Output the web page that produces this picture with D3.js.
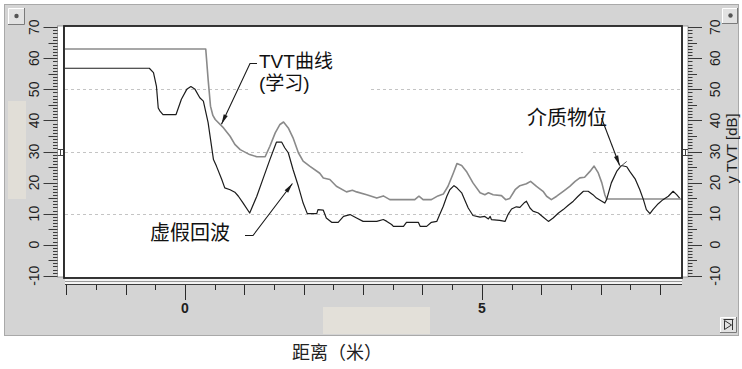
<!DOCTYPE html>
<html>
<head>
<meta charset="utf-8">
<script src="https://cdn.jsdelivr.net/npm/d3@7"></script>
<style>
  html, body { margin: 0; padding: 0; background: #fff; }
  svg { display: block; }
  text { font-family: "Liberation Sans", Arial, "Noto Sans CJK SC", sans-serif; }
  .cjk { font-family: "Noto Sans CJK SC", "Liberation Sans", sans-serif; }
</style>
</head>
<body>
<svg id="chart" width="742" height="369"></svg>
<script>
// Learned TVT curve: distance (m), level (dB)
const tvtLearned = [
  [-2.02, 63], [0.35, 63], [0.39, 53.2], [0.43, 44.6], [0.47, 41.6], [0.51, 40.3],
  [0.65, 37.6], [0.76, 34.9], [0.84, 32.3], [0.93, 30.6], [1.09, 29.0], [1.21, 28.3],
  [1.35, 28.3], [1.43, 31.7], [1.52, 36.0], [1.60, 38.7], [1.66, 39.5], [1.74, 37.6],
  [1.82, 34.4], [1.91, 29.6], [1.99, 26.9], [2.10, 25.3], [2.27, 23.0], [2.33, 21.5],
  [2.44, 21.0], [2.55, 18.8], [2.72, 17.0], [2.82, 17.5], [2.89, 17.0], [3.06, 16.1],
  [3.23, 15.0], [3.34, 15.7], [3.45, 14.5], [3.87, 14.5], [3.94, 15.6], [4.01, 14.5],
  [4.15, 14.5], [4.26, 15.7], [4.35, 16.3], [4.43, 18.8], [4.52, 23.1], [4.58, 26.1],
  [4.66, 25.5], [4.74, 23.6], [4.85, 19.9], [4.97, 16.7], [5.05, 16.1], [5.11, 16.7],
  [5.19, 16.1], [5.33, 15.8], [5.40, 14.5], [5.47, 14.9], [5.56, 17.7], [5.64, 19.0],
  [5.75, 19.6], [5.82, 20.4], [5.92, 18.8], [6.03, 17.2], [6.09, 15.6], [6.17, 14.5],
  [6.26, 15.6], [6.37, 17.2], [6.48, 18.8], [6.57, 20.4], [6.65, 21.5], [6.73, 21.7],
  [6.82, 23.6], [6.89, 25.3], [6.96, 23.1], [7.02, 19.9], [7.07, 16.1], [7.10, 14.7],
  [8.37, 14.7]
];

// Echo profile: distance (m), level (dB)
const echoProfile = [
  [-2.02, 56.8], [-0.60, 56.8], [-0.53, 55.4], [-0.48, 51.0], [-0.45, 44.0], [-0.42, 43.0],
  [-0.37, 41.9], [-0.15, 41.9], [-0.06, 46.8], [0.03, 50.0], [0.10, 50.9], [0.17, 50.0],
  [0.25, 47.3], [0.31, 46.2], [0.39, 39.3], [0.48, 27.4], [0.53, 25.3], [0.62, 21.0],
  [0.67, 18.3], [0.76, 17.7], [0.84, 16.9], [0.90, 15.6], [0.98, 13.4], [1.09, 10.2],
  [1.21, 15.6], [1.32, 21.5], [1.43, 27.4], [1.54, 33.0], [1.63, 33.0], [1.68, 31.2],
  [1.74, 29.6], [1.82, 24.2], [1.91, 18.8], [1.99, 13.4], [2.06, 10.0], [2.22, 10.0],
  [2.24, 11.3], [2.33, 11.1], [2.38, 8.6], [2.47, 7.2], [2.58, 7.2], [2.67, 9.1],
  [2.78, 9.7], [2.89, 8.6], [3.00, 7.5], [3.23, 7.5], [3.34, 8.1], [3.40, 7.5],
  [3.48, 6.5], [3.51, 5.9], [3.68, 5.9], [3.73, 7.2], [3.93, 7.2], [3.96, 5.9],
  [4.07, 5.9], [4.15, 7.2], [4.24, 7.5], [4.29, 9.7], [4.35, 12.4], [4.41, 15.6],
  [4.46, 17.7], [4.53, 19.0], [4.58, 18.3], [4.66, 16.7], [4.71, 14.5], [4.77, 11.8],
  [4.85, 9.4], [4.97, 8.9], [5.05, 9.1], [5.11, 8.3], [5.14, 9.1], [5.16, 8.1],
  [5.30, 7.8], [5.39, 7.5], [5.44, 9.7], [5.50, 11.5], [5.58, 12.2], [5.64, 12.0],
  [5.72, 13.6], [5.75, 14.0], [5.81, 11.8], [5.86, 10.8], [5.95, 10.2], [6.03, 8.9],
  [6.12, 7.5], [6.20, 8.6], [6.29, 10.2], [6.37, 11.3], [6.45, 12.6], [6.54, 14.0],
  [6.62, 15.6], [6.71, 17.2], [6.79, 17.2], [6.87, 16.1], [6.93, 15.0], [7.02, 14.0],
  [7.07, 13.4], [7.10, 14.5], [7.18, 19.9], [7.27, 23.6], [7.35, 25.5], [7.44, 25.1],
  [7.49, 23.6], [7.58, 21.2], [7.66, 17.7], [7.72, 14.5], [7.77, 11.3], [7.83, 10.0],
  [7.88, 11.3], [7.97, 13.2], [8.05, 14.5], [8.14, 15.6], [8.22, 17.2], [8.28, 16.1],
  [8.33, 15.0]
];

const dbTickLabels = [-10, 0, 10, 20, 30, 40, 50, 60, 70];
const distanceTickLabels = [0, 5];
const gridLevels = [10, 30, 50];
const rightAxisTitle = "y TVT [dB]";
const xAxisTitle = "距离（米）";

// Callouts: text lines and the point on the curve the arrow points to (m, dB)
const calloutTexts = [["TVT曲线", "(学习)"], ["虚假回波"], ["介质物位"]];
const calloutTargets = [[0.615, 38.8], [1.81, 19.7], [7.32, 25.5]];

// ---------------------------------------------------------------------------
const svg = d3.select("#chart");
const plot = { left: 65, right: 682, top: 26, bottom: 277 };

const x = d3.scaleLinear().domain([-2.02, 8.37]).range([plot.left, plot.right]);
const y = d3.scaleLinear().domain([-10.4, 70.4]).range([plot.bottom, plot.top]);

// Window panel
svg.append("rect").attr("x", 4.5).attr("y", 4.5).attr("width", 734).attr("height", 331)
  .attr("fill", "#d4d4d4").attr("stroke", "#a9a9a9");

// Raised buttons in the panel corners
function button(bx, by, w, h) {
  const g = svg.append("g");
  g.append("rect").attr("x", bx).attr("y", by).attr("width", w).attr("height", h).attr("fill", "#e2e2e2");
  g.append("path").attr("d", `M${bx + 0.5},${by + h}V${by + 0.5}H${bx + w}`).attr("fill", "none").attr("stroke", "#fff");
  g.append("path").attr("d", `M${bx + w - 0.5},${by}V${by + h - 0.5}H${bx}`).attr("fill", "none").attr("stroke", "#7a7a7a");
  return g;
}
button(8, 8, 17, 17).append("circle").attr("cx", 16.5).attr("cy", 16).attr("r", 2.2).attr("fill", "#555");
button(722, 8, 16, 16).append("circle").attr("cx", 730.5).attr("cy", 15.5).attr("r", 2.2).attr("fill", "#555");
const endBtn = button(720, 317, 17, 16);
endBtn.append("path").attr("d", "M724.5,320.5V329.5L731.5,325Z").attr("fill", "none").attr("stroke", "#333");
endBtn.append("path").attr("d", "M732.5,320V330").attr("stroke", "#333");
endBtn.append("path").attr("d", "M723.5,319.5H733.5").attr("stroke", "#333");

// Patches on the panel
svg.append("rect").attr("x", 8).attr("y", 101).attr("width", 18).attr("height", 98).attr("fill", "#e1ded7");
svg.append("rect").attr("x", 323).attr("y", 307).attr("width", 107).attr("height", 27).attr("fill", "#e3e0d9");

// Ruler strips beside the plot
svg.append("rect").attr("x", 57.5).attr("y", plot.top).attr("width", 6).attr("height", plot.bottom - plot.top)
  .attr("fill", "#fff").attr("stroke", "#8c8c8c").attr("stroke-width", 0.8);
svg.append("rect").attr("x", plot.right).attr("y", plot.top).attr("width", 6).attr("height", plot.bottom - plot.top)
  .attr("fill", "#fff").attr("stroke", "#8c8c8c").attr("stroke-width", 0.8);
svg.append("rect").attr("x", plot.left).attr("y", plot.bottom + 1).attr("width", plot.right - plot.left).attr("height", 7)
  .attr("fill", "#f4f4f4");
svg.append("line").attr("x1", plot.left).attr("x2", plot.right).attr("y1", 281.5).attr("y2", 281.5).attr("stroke", "#9a9a9a");
svg.append("line").attr("x1", plot.left).attr("x2", plot.right).attr("y1", 284.5).attr("y2", 284.5).attr("stroke", "#3a3a3a");

// Plot area
svg.append("rect").attr("x", plot.left).attr("y", plot.top).attr("width", plot.right - plot.left)
  .attr("height", plot.bottom - plot.top).attr("fill", "#fff");

// dB rulers: minor every 1 dB, medium every 5, major every 10
const dbRuler = d3.range(-10, 71, 1);
const tickLen = v => (v % 10 === 0 ? 14 : v % 5 === 0 ? 9 : 4.5);
const leftRuler = svg.append("g");
leftRuler.selectAll("line").data(dbRuler).join("line")
  .attr("x1", 57.5).attr("x2", d => 57.5 - tickLen(d))
  .attr("y1", d => Math.round(y(d)) + 0.5).attr("y2", d => Math.round(y(d)) + 0.5)
  .attr("stroke", "#3a3a3a").attr("stroke-width", 1);
const rightRuler = svg.append("g");
rightRuler.selectAll("line").data(dbRuler).join("line")
  .attr("x1", 688).attr("x2", d => 688 + tickLen(d))
  .attr("y1", d => Math.round(y(d)) + 0.5).attr("y2", d => Math.round(y(d)) + 0.5)
  .attr("stroke", "#3a3a3a").attr("stroke-width", 1);

// dB labels, rotated
function dbLabels(cx) {
  svg.append("g").selectAll("text").data(dbTickLabels).join("text")
    .attr("transform", d => `translate(${cx},${y(d)}) rotate(-90)`)
    .attr("text-anchor", "middle").attr("dy", "0.36em")
    .attr("font-size", 14).attr("fill", "#1e1e1e")
    .text(d => d);
}
dbLabels(33.5);
dbLabels(715);
svg.append("text").attr("transform", `translate(731.5,${y(31)}) rotate(-90)`)
  .attr("text-anchor", "middle").attr("dy", "0.36em").attr("font-size", 15).attr("fill", "#1e1e1e")
  .text(rightAxisTitle);

// Cursor marks on the strips at 30 dB
function cursorMark(cx) {
  const cy = Math.round(y(30)) + 0.5;
  svg.append("path").attr("d", `M${cx - 2.5},${cy - 3}H${cx + 2.5}M${cx},${cy - 3}V${cy + 3}M${cx - 2.5},${cy + 3}H${cx + 2.5}`)
    .attr("stroke", "#444").attr("fill", "none");
}
cursorMark(60.5);
cursorMark(685.5);

// Distance axis
const distTicks = d3.range(-2, 8.01, 0.5);
const distLen = v => (v % 5 === 0 ? 15 : Number.isInteger(v) ? 10 : 5);
svg.append("g").selectAll("line").data(distTicks).join("line")
  .attr("x1", d => Math.round(x(d)) + 0.5).attr("x2", d => Math.round(x(d)) + 0.5)
  .attr("y1", 285).attr("y2", d => 285 + distLen(d))
  .attr("stroke", "#2a2a2a");
svg.append("g").selectAll("text").data(distanceTickLabels).join("text")
  .attr("x", d => x(d)).attr("y", 313).attr("text-anchor", "middle")
  .attr("font-size", 14).attr("font-weight", "bold").attr("fill", "#1e1e1e")
  .text(d => d);

svg.append("text").attr("class", "cjk").attr("x", 337).attr("y", 359).attr("text-anchor", "middle")
  .attr("font-size", 18).attr("fill", "#222").text(xAxisTitle);

// Dashed grid
svg.append("g").selectAll("line").data(gridLevels).join("line")
  .attr("x1", plot.left).attr("x2", plot.right)
  .attr("y1", d => Math.round(y(d)) + 0.5).attr("y2", d => Math.round(y(d)) + 0.5)
  .attr("stroke", "#c4c4c4").attr("stroke-dasharray", "3,3");

// Callout backgrounds
svg.append("rect").attr("x", 250).attr("y", 44).attr("width", 120).attr("height", 52).attr("fill", "#fff");
svg.append("rect").attr("x", 523).attr("y", 100).attr("width", 70).attr("height", 57).attr("fill", "#fff");

// Curves
const line = d3.line().x(d => x(d[0])).y(d => y(d[1]));
svg.append("path").datum(tvtLearned).attr("d", line)
  .attr("fill", "none").attr("stroke", "#8a8a8a").attr("stroke-width", 1.6).attr("stroke-linejoin", "round");
svg.append("path").datum(echoProfile).attr("d", line)
  .attr("fill", "none").attr("stroke", "#1c1c1c").attr("stroke-width", 1.2).attr("stroke-linejoin", "round");

// Plot frame
svg.append("rect").attr("x", plot.left - 1).attr("y", plot.top).attr("width", plot.right - plot.left + 1)
  .attr("height", plot.bottom - plot.top + 1).attr("fill", "none").attr("stroke", "#222").attr("stroke-width", 1.8);

// Callouts
function arrowHead(x1, y1, x2, y2, len = 10, half = 2.2) {
  const a = Math.atan2(y2 - y1, x2 - x1);
  const bx = x2 - len * Math.cos(a), by = y2 - len * Math.sin(a);
  const nx = -Math.sin(a) * half, ny = Math.cos(a) * half;
  return `M${x2},${y2}L${bx + nx},${by + ny}L${bx - nx},${by - ny}Z`;
}
const calloutLayout = [
  { tx: 259, ty: [68, 90], size: 19, leader: [[257, 63.5], [250, 63.5]] },
  { tx: 150, ty: [240], size: 20, leader: [[245, 235.5], [253, 235.5]] },
  { tx: 527, ty: [125], size: 20, leader: [[601.5, 118]] }
];
calloutTexts.forEach((lines, i) => {
  const L = calloutLayout[i];
  const tip = [x(calloutTargets[i][0]), y(calloutTargets[i][1])];
  const pts = L.leader.concat([tip]);
  svg.append("path").attr("d", d3.line()(pts)).attr("fill", "none").attr("stroke", "#1a1a1a").attr("stroke-width", 1.1);
  const prev = pts[pts.length - 2];
  svg.append("path").attr("d", arrowHead(prev[0], prev[1], tip[0], tip[1])).attr("fill", "#1a1a1a");
  const block = svg.append("text").attr("x", L.tx).attr("y", L.ty[0])
    .attr("font-size", L.size).attr("fill", "#111");
  lines.forEach((t, j) => {
    block.append("tspan").attr("x", L.tx).attr("y", L.ty[j]).text(t);
  });
});
// Level marker at the material echo peak
const lvl = [x(calloutTargets[2][0]), y(calloutTargets[2][1])];
svg.append("line").attr("x1", lvl[0] + 1).attr("y1", lvl[1] + 1).attr("x2", lvl[0] + 7).attr("y2", lvl[1] - 4)
  .attr("stroke", "#555").attr("stroke-width", 1);
</script>
</body>
</html>
